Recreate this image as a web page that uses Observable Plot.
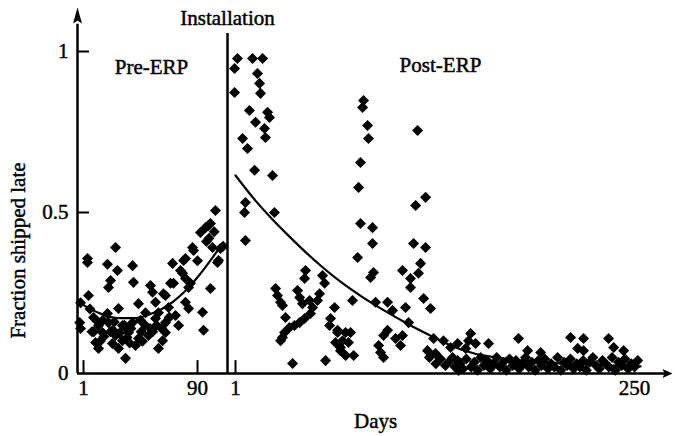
<!DOCTYPE html>
<html>
<head>
<meta charset="utf-8">
<script src="https://cdn.jsdelivr.net/npm/d3@7"></script>
<script src="https://cdn.jsdelivr.net/npm/@observablehq/plot@0.6"></script>
<style>
  html, body { margin: 0; padding: 0; background: #fff; }
  #chart { position: relative; width: 675px; height: 436px; }
  #chart svg { position: absolute; left: 0; top: 0; }
  #chart svg text { stroke: black; stroke-width: 0.45px; paint-order: stroke; }
</style>
</head>
<body>
<div id="chart"></div>
<script>
// ---- Data ----
const preDays = [26.0,4.1,4.1,19.7,27.5,39.3,22.1,20.5,40.0,4.9,-1.3,53.3,54.9,28.3,43.9,63.4,68.9,70.5,80.6,86.9,86.1,92.3,96.2,101.7,107.9,106.4,100.1,93.9,94.7,78.3,80.6,84.5,80.6,83.0,72.8,75.2,65.0,62.7,59.5,33.8,57.2,59.5,-2.0,-1.3,8.8,12.7,19.7,15.8,10.4,12.7,26.0,23.6,31.4,36.1,39.3,45.5,49.4,51.7,43.9,31.4,20.5,49.4,28.3,41.6,57.2,65.0,104.0,100.1,105.6,65.0,79.1,76.7,71.3,67.4,98.6,83.0,16.0,24.0,34.0,46.0,6.0,9.0,14.0,29.0,37.0,53.0,
  7.6,11.0,17.0,22.0,25.0,33.0,35.0,38.0,47.0,55.0,58.0,62.0,68.0,90.0,97.0,99.0,103.0,110.0];
const preValues = [0.391,0.357,0.345,0.339,0.320,0.335,0.289,0.267,0.283,0.242,0.220,0.273,0.252,0.202,0.217,0.248,0.280,0.342,0.357,0.382,0.391,0.438,0.453,0.391,0.388,0.351,0.264,0.190,0.134,0.311,0.295,0.280,0.221,0.202,0.180,0.149,0.127,0.102,0.078,0.047,0.221,0.189,0.158,0.140,0.174,0.149,0.186,0.127,0.096,0.078,0.118,0.093,0.102,0.127,0.158,0.165,0.149,0.118,0.109,0.149,0.158,0.189,0.078,0.087,0.171,0.158,0.506,0.466,0.345,0.242,0.351,0.320,0.280,0.205,0.460,0.267,0.165,0.135,0.140,0.130,0.200,0.130,0.100,0.125,0.095,0.140,
  0.130,0.165,0.115,0.130,0.160,0.150,0.112,0.140,0.100,0.130,0.150,0.140,0.175,0.350,0.410,0.420,0.440,0.395];

const postDays = [2.2,0.4,11.6,17.9,14.7,16.0,16.6,0.4,9.7,21.0,22.2,13.5,19.1,19.7,5.4,8.5,12.9,24.1,7.2,6.6,25.3,7.2,
  44.7,44.1,55.3,56.6,26.0,27.2,29.1,30.3,39.7,41.0,42.8,47.2,49.1,53.4,52.2,47.8,44.1,41.0,37.8,34.7,32.2,31.6,30.3,29.1,62.8,60.3,59.7,64.7,63.4,66.5,36.6,57.2,
  80.9,80.3,83.4,84.0,114.6,79.0,77.8,119.6,113.4,79.0,86.5,
  86.5,77.2,112.1,119.6,116.5,87.1,85.3,105.2,110.2,115.2,110.2,118.4,122.7,74.0,88.4,95.9,99.0,107.1,109.0,95.9,93.4,100.9,105.2,104.0,90.3,91.5,93.4,64.7,69.7,72.8,67.8,71.5,66.5,74.7,69.7,124.6,130.8,120.8,125.8,135.2,136.5,139.6,140.2,
  147.7,146.4,139.6,150.8,158.9,144.6,177.6,183.3,191.4,210.1,218.2,214.5,218.2,233.8,237.0,243.2,
  122,126,129,132,135,138,141,143,145,148,150,152,154,156,158,160,162,164,166,168,170,172,174,176,178,180,182,184,186,188,190,192,194,196,198,200,202,204,206,208,210,212,214,216,218,220,222,224,226,228,230,232,234,236,238,240,242,244,246,248,250,252];
const postValues = [0.978,0.947,0.978,0.978,0.932,0.901,0.870,0.873,0.817,0.811,0.795,0.780,0.761,0.733,0.730,0.699,0.631,0.615,0.531,0.500,0.500,0.413,
  0.320,0.295,0.304,0.280,0.264,0.242,0.221,0.211,0.258,0.236,0.217,0.227,0.205,0.248,0.227,0.186,0.171,0.158,0.149,0.143,0.174,0.127,0.112,0.102,0.205,0.171,0.149,0.127,0.096,0.081,0.031,0.040,
  0.848,0.826,0.770,0.730,0.755,0.655,0.578,0.547,0.522,0.466,0.453,
  0.404,0.360,0.404,0.391,0.342,0.314,0.298,0.320,0.295,0.311,0.267,0.233,0.202,0.227,0.221,0.221,0.196,0.205,0.158,0.134,0.118,0.109,0.118,0.087,0.087,0.065,0.050,0.134,0.127,0.127,0.102,0.096,0.071,0.056,0.056,0.109,0.102,0.071,0.062,0.081,0.050,0.040,0.009,
  0.124,0.102,0.093,0.093,0.093,0.078,0.109,0.071,0.065,0.112,0.109,0.078,0.071,0.109,0.081,0.071,
  0.050,0.030,0.045,0.025,0.040,0.020,0.030,0.015,0.045,0.020,0.035,0.010,0.050,0.025,0.040,0.015,0.030,0.050,0.020,0.035,0.010,0.045,0.025,0.040,0.015,0.030,0.050,0.020,0.035,0.010,0.040,0.025,0.045,0.015,0.030,0.020,0.050,0.010,0.035,0.025,0.045,0.015,0.030,0.020,0.040,0.010,0.035,0.050,0.025,0.015,0.040,0.030,0.020,0.050,0.010,0.035,0.025,0.045,0.015,0.030,0.020,0.040];

const preTrendDays = [-3.7,6.5,14.3,27.5,41.6,54.9,61.1,70.5,80.6,90.8,101.7,109.5];
const preTrendValues = [0.225,0.200,0.186,0.172,0.172,0.187,0.198,0.222,0.257,0.303,0.360,0.404];
const postTrendDays = [1.0,11.6,24.1,34.7,44.7,55.3,66.5,80.0,95.0,110.0,124.6,137.1,150.0,166.4,197.6,228.8,253.8];
const postTrendValues = [0.615,0.548,0.478,0.425,0.377,0.330,0.285,0.238,0.192,0.150,0.113,0.083,0.062,0.048,0.033,0.026,0.022];

const yTicks = [0, 0.5, 1];
const preXTicks = [1, 90];
const postXTicks = [1, 250];
const postTickMarks = [1];
const installationDay = 113.4;
const labels = {y: "Fraction shipped late", x: "Days", pre: "Pre-ERP", post: "Post-ERP", install: "Installation"};

// ---- Build tables ----
const pre = preDays.map((d, i) => ({day: d, value: preValues[i]}));
const post = postDays.map((d, i) => ({day: d, value: postValues[i]}));
const preTrend = preTrendDays.map((d, i) => ({day: d, value: preTrendValues[i]}));
const postTrend = postTrendDays.map((d, i) => ({day: d, value: postTrendValues[i]}));

const diamond = {draw(ctx, size) {
  const h = Math.sqrt(size / 2);
  ctx.moveTo(0, -h); ctx.lineTo(h, 0); ctx.lineTo(0, h); ctx.lineTo(-h, 0); ctx.closePath();
}};
const arrowUp = {draw(ctx) {
  ctx.moveTo(0, -8); ctx.lineTo(4.5, 8); ctx.lineTo(0, 5); ctx.lineTo(-4.5, 8); ctx.closePath();
}};
const arrowRight = {draw(ctx) {
  ctx.moveTo(5, 0); ctx.lineTo(-5, 4.5); ctx.lineTo(-3, 0); ctx.lineTo(-5, -4.5); ctx.closePath();
}};

const style = {background: "transparent", fontFamily: "'Liberation Serif', 'DejaVu Serif', serif", fontSize: "21px", color: "black", overflow: "visible"};
const common = {width: 675, height: 436, marginTop: 51, marginBottom: 63, style};
const y = {domain: [0, 1], label: null};

const prePlot = Plot.plot({
  ...common,
  marginLeft: 77, marginRight: 448,
  x: {domain: [-3.7, installationDay], label: null},
  y,
  marks: [
    Plot.dot(pre, {x: "day", y: "value", symbol: diamond, r: 4.4, fill: "black", stroke: "none"}),
    Plot.line(preTrend, {x: "day", y: "value", stroke: "black", strokeWidth: 2.2, curve: "monotone-x"}),
    Plot.ruleX([-3.7], {y1: 0, y2: 1.085, stroke: "black", strokeWidth: 2.5}),
    Plot.dot([0], {x: -3.7, y: 1.112, symbol: arrowUp, fill: "black", stroke: "none"}),
    Plot.ruleY([0], {stroke: "black", strokeWidth: 2.5}),
    Plot.ruleY([0.5, 1], {x1: -3.7, x2: 5.7, stroke: "black", strokeWidth: 2}),
    Plot.ruleX(preXTicks, {y1: 0, y2: 0.04, stroke: "black", strokeWidth: 2}),
    Plot.ruleX([installationDay], {y1: 0, y2: 1.056, stroke: "black", strokeWidth: 2.5}),
    Plot.axisY(yTicks, {tickSize: 0, tickPadding: 9, tickFormat: d => String(d), label: null}),
    Plot.axisX(preXTicks, {tickSize: 0, tickPadding: 7, tickFormat: d => String(d), label: null}),
    Plot.text([labels.install], {x: installationDay, y: 1.081, text: d => d, textAnchor: "middle", lineAnchor: "bottom"}),
    Plot.text([labels.pre], {x: 54.1, y: 0.929, text: d => d, textAnchor: "middle", lineAnchor: "bottom"}),
    Plot.text([labels.y], {x: -49.7, y: 0.382, text: d => d, rotate: -90, textAnchor: "middle", lineAnchor: "middle"})
  ]
});

const postPlot = Plot.plot({
  ...common,
  marginLeft: 227, marginRight: 3,
  x: {domain: [-4.0, 273.7], label: null},
  y: {...y, axis: null},
  marks: [
    Plot.dot(post, {x: "day", y: "value", symbol: diamond, r: 4.4, fill: "black", stroke: "none"}),
    Plot.line(postTrend, {x: "day", y: "value", stroke: "black", strokeWidth: 2.2, curve: "monotone-x"}),
    Plot.ruleY([0], {x1: -4.0, x2: 271, stroke: "black", strokeWidth: 2.5}),
    Plot.dot([0], {x: 270.6, y: 0, symbol: arrowRight, fill: "black", stroke: "none"}),
    Plot.ruleX(postTickMarks, {y1: 0, y2: 0.04, stroke: "black", strokeWidth: 2}),
    Plot.axisX(postXTicks, {tickSize: 0, tickPadding: 7, tickFormat: d => String(d), label: null}),
    Plot.text([labels.post], {x: 128.9, y: 0.935, text: d => d, textAnchor: "middle", lineAnchor: "bottom"}),
    Plot.text([labels.x], {x: 88.4, y: -0.168, text: d => d, textAnchor: "middle", lineAnchor: "bottom"})
  ]
});

const chart = document.getElementById("chart");
chart.appendChild(prePlot);
chart.appendChild(postPlot);
</script>
</body>
</html>
